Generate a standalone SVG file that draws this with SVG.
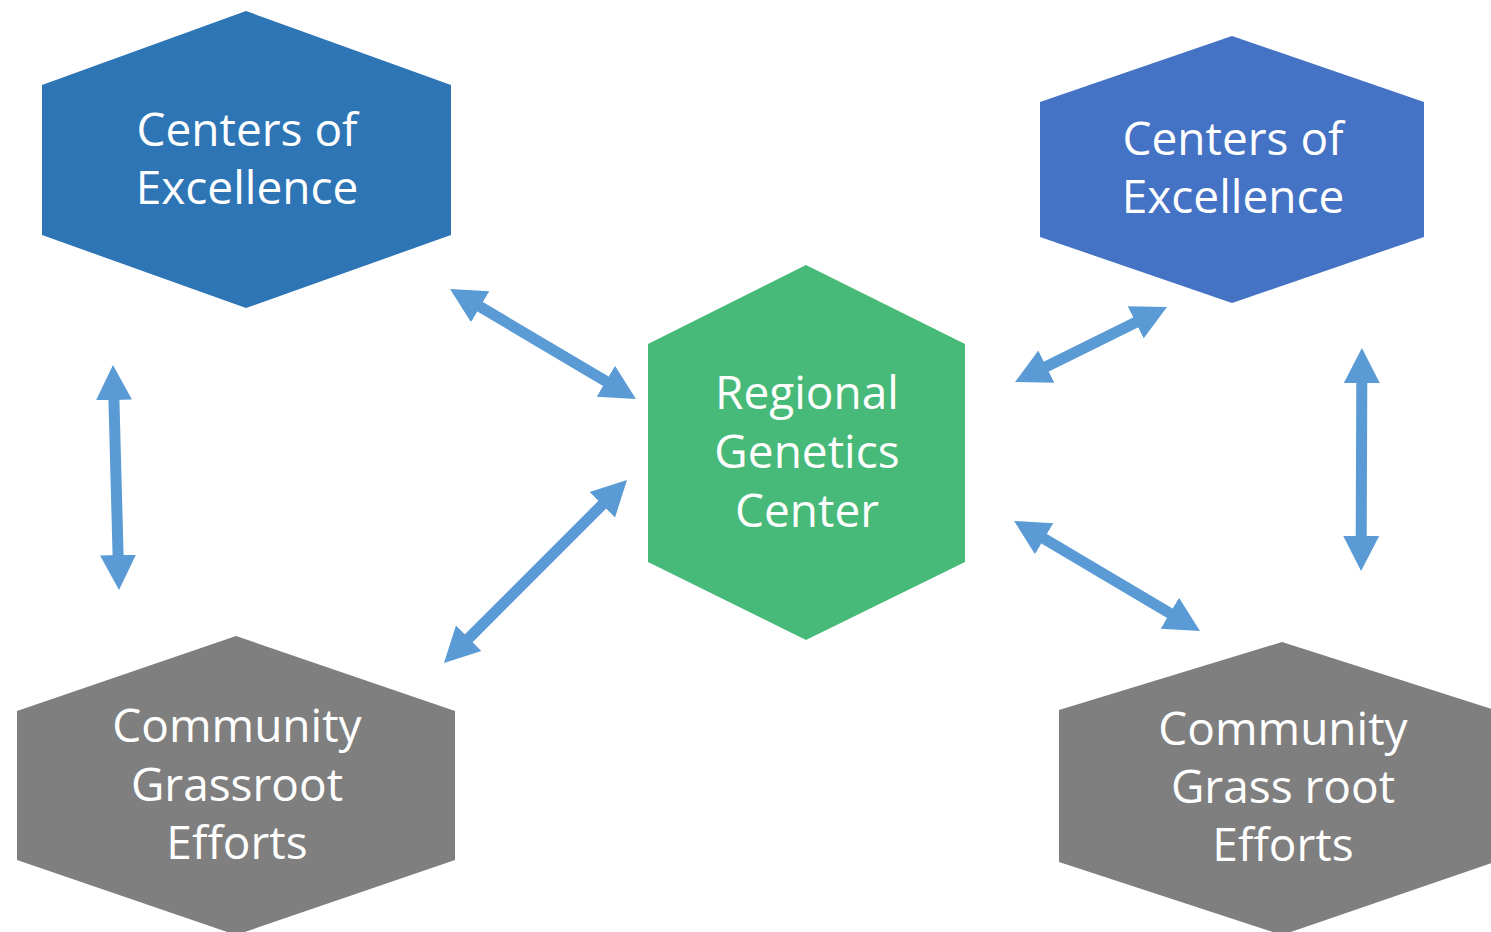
<svg xmlns="http://www.w3.org/2000/svg" width="1491" height="932" viewBox="0 0 1491 932">
<style>
.lbl{font-family:"Open Sans","Liberation Sans",sans-serif;font-size:46px;fill:#ffffff;text-anchor:middle}
.conn{stroke:#5B9BD5;stroke-width:11;fill:none;marker-start:url(#ah);marker-end:url(#ah)}
</style>
<defs>
<marker id="ah" markerUnits="userSpaceOnUse" viewBox="0 -20 40 40" refX="1" refY="0" markerWidth="40" markerHeight="40" orient="auto-start-reverse">
<path d="M0,-18 L35,0 L0,18 z" fill="#5B9BD5"/>
</marker>
</defs>
<rect width="1491" height="932" fill="#ffffff"/>
<g id="coe-left">
<polygon points="246,11 451,85 451,235 246,308 42,235 42,85" fill="#2E75B6"/>
<text class="lbl" x="247" y="146">Centers of</text>
<text class="lbl" x="247" y="204">Excellence</text>
</g>
<g id="coe-right">
<polygon points="1232,36 1424,102 1424,237 1232,303 1040,237 1040,102" fill="#4472C4"/>
<text class="lbl" x="1233" y="155">Centers of</text>
<text class="lbl" x="1233" y="213">Excellence</text>
</g>
<g id="rgc">
<polygon points="806,265 965,344 965,562 806,640 648,562 648,344" fill="#47B978"/>
<text class="lbl" x="807" y="409">Regional</text>
<text class="lbl" x="807" y="468">Genetics</text>
<text class="lbl" x="807" y="527">Center</text>
</g>
<g id="cge-left">
<polygon points="236,636 455,711 455,860 236,935 17,860 17,711" fill="#7F7F7F"/>
<text class="lbl" x="237" y="742">Community</text>
<text class="lbl" x="237" y="801">Grassroot</text>
<text class="lbl" x="237" y="859">Efforts</text>
</g>
<g id="cge-right">
<polygon points="1282,642 1495,710 1495,862 1282,935 1059,862 1059,710" fill="#7F7F7F"/>
<text class="lbl" x="1283" y="745">Community</text>
<text class="lbl" x="1283" y="803">Grass root</text>
<text class="lbl" x="1283" y="861">Efforts</text>
</g>
<g id="connectors">
<line class="conn" x1="479.3" y1="306.3" x2="606.7" y2="381.7"/>
<line class="conn" x1="1045.5" y1="367" x2="1136.5" y2="322"/>
<line class="conn" x1="113.9" y1="399" x2="118.1" y2="556"/>
<line class="conn" x1="468" y1="639" x2="603" y2="504"/>
<line class="conn" x1="1043.3" y1="538.3" x2="1170.7" y2="613.7"/>
<line class="conn" x1="1361.8" y1="382" x2="1361.2" y2="537"/>
</g>
</svg>
